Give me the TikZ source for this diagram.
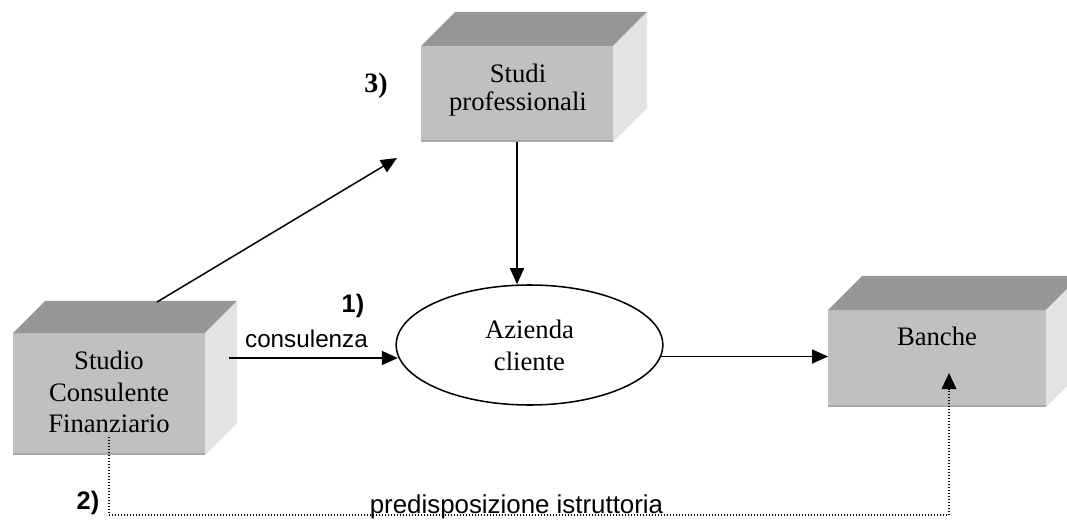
\documentclass[tikz,border=0pt]{standalone}
\usepackage{fontspec}
\setmainfont{Liberation Serif}
\setsansfont{Liberation Sans}
\usetikzlibrary{calc,arrows.meta,shapes.geometric}
\definecolor{frontgray}{HTML}{C0C0C0}
\definecolor{topgray}{HTML}{969696}
\definecolor{sidegray}{HTML}{E3E3E3}
\definecolor{edgegray}{HTML}{A8A8A8}
\tikzset{
  boxfront/.style={rectangle,fill=frontgray,inner sep=0pt,outer sep=0pt},
  topface/.style={fill=topgray},
  sideface/.style={fill=sidegray},
  boxtext/.style={font=\fontsize{19.5}{23.6}\selectfont,align=center,inner sep=0pt},
  flow/.style={line width=1.15pt,-{Triangle[length=12pt,width=10.5pt]}},
  dotline/.style={line width=0.8pt,dash pattern=on 0.75pt off 1.5pt,-{Triangle[length=12pt,width=11pt]}},
  numlabel/.style={font=\sffamily\bfseries\fontsize{19}{22}\selectfont,inner sep=0pt},
}
\newcommand\cubesides[2]{%
  \fill[topface] (#1.north west) -- ++(#2,-#2) -- ([shift={(#2,-#2)}]#1.north east) -- (#1.north east) -- cycle;
  \fill[sideface] (#1.north east) -- ++(#2,-#2) -- ([shift={(#2,-#2)}]#1.south east) -- (#1.south east) -- cycle;
  \draw[edgegray,line width=1.2pt] ([yshift=0.6pt]#1.south west) -- ([yshift=0.6pt]#1.south east);
}
\begin{document}
\begin{tikzpicture}[x=0.75pt,y=-0.75pt]
\useasboundingbox (0,0) rectangle (1067,520);
\clip (0,0) rectangle (1067,520);

% boxes
\node[boxfront,minimum width=144pt,minimum height=91.5pt] (lb) at (109,394) {};
\cubesides{lb}{32}
\node[boxtext,font=\fontsize{20}{23.6}\selectfont] (lbt) at (109,392) {Studio\\Consulente\\Finanziario};

\node[boxfront,minimum width=144pt,minimum height=72pt] (sp) at (517,94) {};
\cubesides{sp}{34}
\node[boxtext,font=\fontsize{20}{21}\selectfont] (spt) at (518,90) {Studi\\professionali};

\node[boxfront,minimum width=163.5pt,minimum height=72.75pt] (bk) at (937,358.5) {};
\cubesides{bk}{34}
\node[boxtext,font=\fontsize{20}{24}\selectfont,anchor=base] (bkt) at (937,345) {Banche};

% ellipse
\node[ellipse,draw,line width=1.15pt,fill=white,minimum width=200pt,minimum height=90pt,inner sep=0pt,
      font=\fontsize{20}{24}\selectfont,align=center] (az) at (529.5,345) {Azienda\\cliente};

% connectors
\coordinate (dstart) at ([shift={(48,-31)}]lb.north);
\coordinate (dend) at ([shift={(-24,16)}]sp.south west);
\draw[flow] (dstart) -- (dend);

\draw[flow] (sp.south) -- (sp.south |- az.north);

\coordinate (cstart) at (229,358);
\draw[flow] (cstart) -- (cstart -| az.185.7);

\draw[flow] (az.-5.7) -- (az.-5.7 -| bk.west);

\coordinate (pstart) at ([shift={(0,-18)}]lb.south);
\coordinate (ptip) at ([shift={(12,14.5)}]bk.center);
\coordinate (pcorner) at (ptip |- 0,515);
\draw[dotline] (pstart) |- (pcorner) -- (ptip);

% labels
\node[font=\sffamily\fontsize{18.2}{22}\selectfont,inner sep=0pt,anchor=base] (cons) at (306.5,347) {consulenza};
\node[font=\sffamily\fontsize{19.4}{23}\selectfont,inner sep=0pt,anchor=base] (pred) at (516.5,513) {predisposizione istruttoria};
\node[numlabel] (n1) at (353,306) {1)};
\node[numlabel] (n2) at (88,503) {2)};
\node[font=\bfseries\fontsize{21}{24}\selectfont,inner sep=0pt] (n3) at (376,86) {3)};
\end{tikzpicture}
\end{document}
